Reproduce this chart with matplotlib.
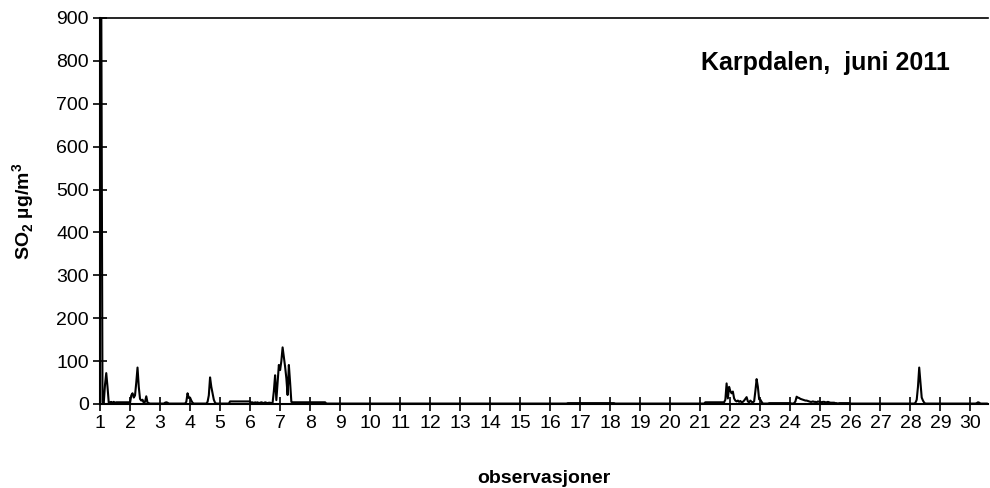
import matplotlib
matplotlib.use("Agg")
import matplotlib.pyplot as plt
import numpy as np

plt.rcParams["font.family"] = ["Liberation Sans", "DejaVu Sans"]
plt.rcParams["mathtext.fontset"] = "custom"
plt.rcParams["mathtext.rm"] = "Liberation Sans:bold"
plt.rcParams["mathtext.bf"] = "Liberation Sans:bold"

n_obs = 710
baseline = 1.0
day_labels = [str(d) for d in range(1, 31)]

# flat low-level periods: start, stop, level
flat_starts = [13, 104, 153, 374, 484, 535, 591]
flat_stops = [24, 121, 181, 412, 500, 553, 600]
flat_levels = [4, 6, 4, 2, 4, 2, 2]

# episodes: start hour and hour-by-hour values
episode_starts = [0, 3, 24, 52, 69, 86, 121, 138, 500, 555, 652, 701]
episode_values = [
    [980, 960, 4],
    [2, 45, 72, 40, 3, 4, 5, 3, 5, 3],
    [2, 20, 25, 15, 20, 50, 85, 40, 12, 8, 10, 3, 5, 18, 3, 2],
    [3, 4, 3],
    [5, 25, 14, 15, 8, 3],
    [5, 20, 62, 40, 25, 10, 3],
    [3, 4, 2, 4, 3, 4, 2, 3, 4, 3, 2, 4, 3, 2, 3, 3, 2],
    [3, 30, 67, 9, 50, 91, 79, 100, 132, 110, 87, 60, 21, 91, 50, 5],
    [10, 48, 13, 40, 30, 25, 29, 13, 8, 6, 8, 5, 7, 4, 5, 8, 12, 16, 6, 4, 8, 5, 4, 6, 30, 58, 40, 11, 10, 5],
    [2, 6, 17, 15, 14, 12, 11, 10, 9, 8, 8, 7, 6, 5, 5, 6, 5, 5, 4, 6, 5, 5, 4, 5, 5, 4, 4, 5, 4, 3, 3, 3, 3, 2, 2],
    [3, 10, 40, 85, 50, 15, 8, 3],
    [2, 4, 3],
]

so2 = np.full(n_obs, baseline)
for a, b, lvl in zip(flat_starts, flat_stops, flat_levels):
    so2[a:b] = lvl
for start, vals in zip(episode_starts, episode_values):
    so2[start:start + len(vals)] = vals
obs = np.arange(n_obs)

fig = plt.figure(figsize=(9.9, 4.88), dpi=100)
ax = fig.add_axes([100 / 990, 84 / 488, 888 / 990, 386 / 488])

ax.plot(obs, so2, color="black", lw=1.5)

ax.set_xlim(0, n_obs)
ax.set_ylim(0, 900)
ax.set_xticks(np.arange(0, 30 * 24, 24))
ax.set_xticklabels(day_labels)
ax.set_yticks(np.arange(0, 901, 100))

ax.tick_params(direction="inout", length=10, width=1.2, labelsize=14, pad=3)
for side in ["left", "bottom"]:
    ax.spines[side].set_linewidth(1.5)
ax.spines["top"].set_linewidth(1.2)
ax.spines["right"].set_visible(False)

ax.set_ylabel(r"SO$_\mathbf{2}$ µg/m$^\mathbf{3}$", fontsize=14, fontweight="bold", labelpad=14)
ax.set_xlabel("observasjoner", fontsize=14, fontweight="bold", labelpad=27)
ax.text(0.957, 0.883, "Karpdalen,  juni 2011", transform=ax.transAxes,
        ha="right", va="center", fontsize=18, fontweight="bold")

fig.savefig("out.png", dpi=100)
